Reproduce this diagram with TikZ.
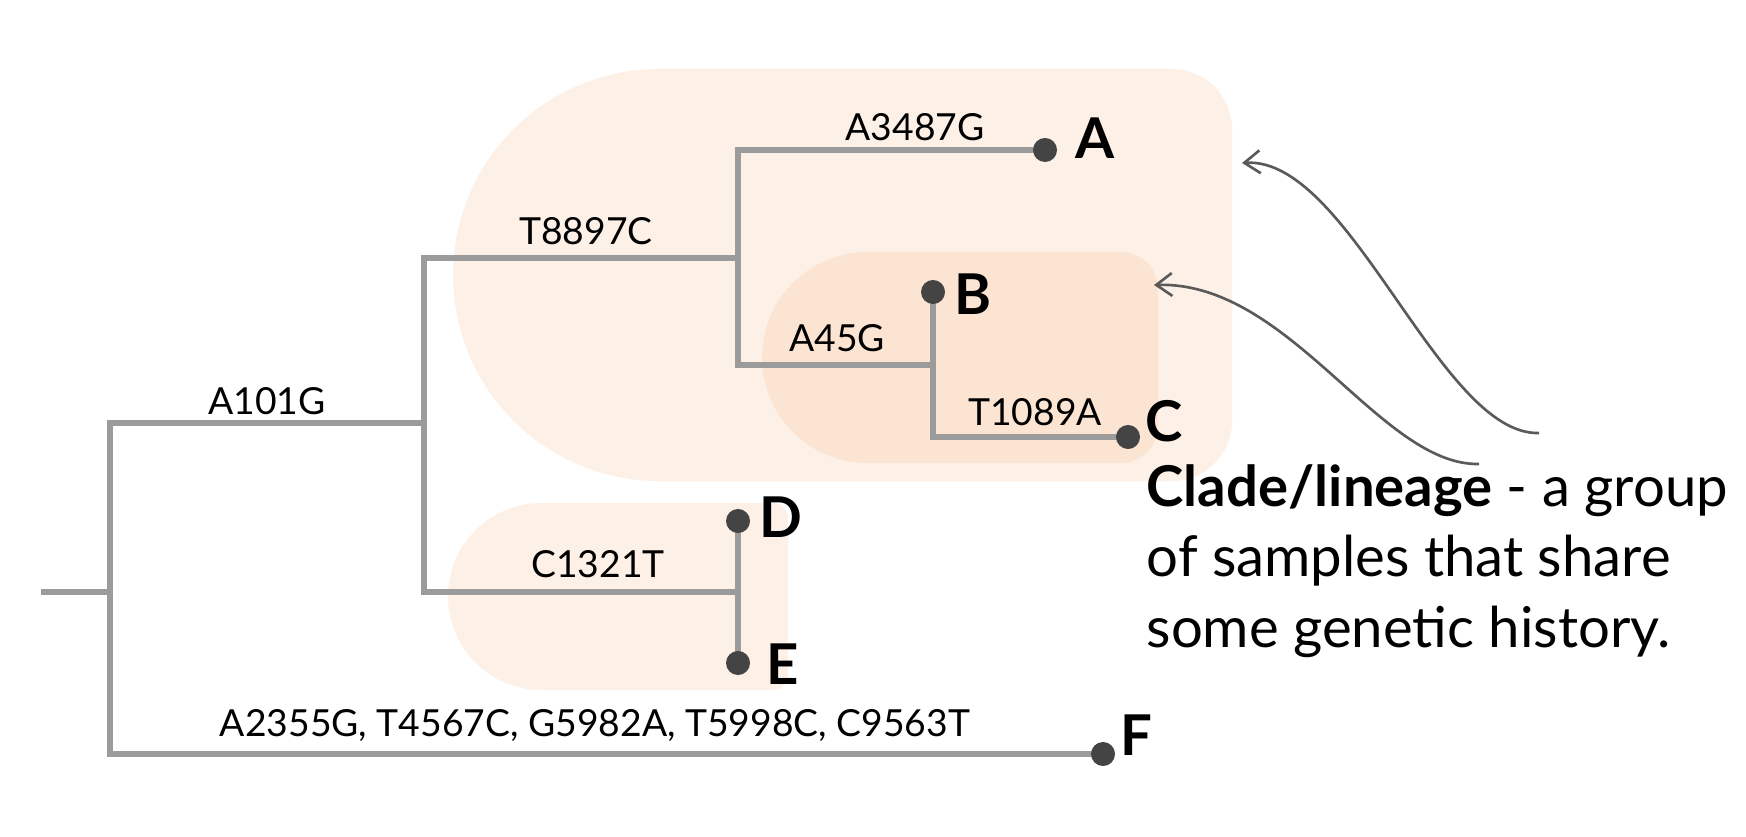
\documentclass[tikz,border=0pt]{standalone}
\usepackage{fontspec}
\setmainfont{Lato}
\usepackage{tikz}
\usetikzlibrary{arrows.meta, calc, backgrounds}
\definecolor{cladelight}{RGB}{253,240,231}
\definecolor{cladedark}{RGB}{252,228,210}
\definecolor{branchgray}{RGB}{155,155,155}
\definecolor{leafdark}{RGB}{68,68,68}
\definecolor{arrowgray}{RGB}{90,90,90}

\begin{document}
\begin{tikzpicture}[
  x=0.01cm, y=0.01cm,
  font=\fontsize{10.6}{12.7}\selectfont,
  branch/.style={draw=branchgray, line width=1.85pt},
  leaf/.style={circle, fill=leafdark, inner sep=0pt, minimum size=0.24cm},
  mut/.style={anchor=base, inner sep=0pt},
  tipname/.style={anchor=base west, inner sep=0pt,
                  font=\fontsize{16}{19}\selectfont\bfseries},
  desc/.style={anchor=base west, inner sep=0pt, align=left,
               font=\fontsize{16}{20}\selectfont},
  pointer/.style={-{Straight Barb[length=4.5pt,width=6.5pt]},
                  draw=arrowgray, line width=0.75pt}
]
  \useasboundingbox (0,0) rectangle (1746,836);
  % inner nodes of the tree
  \coordinate (root) at (41,244);
  \coordinate (n0) at (110,244);
  \coordinate (n1) at (424,413);
  \coordinate (n2) at (738,578);
  \coordinate (n3) at (933,471);
  \coordinate (n4) at (738,244);
  % samples
  \node[leaf] (A) at (1045,686) {};
  \node[leaf] (B) at (933,544) {};
  \node[leaf] (C) at (1128,399) {};
  \node[leaf] (D) at (738,315) {};
  \node[leaf] (E) at (738,173) {};
  \node[leaf] (F) at (1103,82) {};
  \foreach \l/\dx/\dy in {A/30/-9, B/21/-23, C/17/-4, D/21/-16, E/28/-21, F/17/-1}
    \node[tipname] (l\l) at ($(\l)+(\dx,\dy)$) {\l};

  % mutations
  \node[mut] (mA101G) at (267,422) {A101G};
  \node[mut] (mT8897C) at (586,591) {T8897C};
  \node[mut] (mA3487G) at (915,695) {A3487G};
  \node[mut] (mA45G) at (837,484) {A45G};
  \node[mut] (mT1089A) at (1035,410) {T1089A};
  \node[mut] (mC1321T) at (598,259) {C1321T};
  \node[mut] (mF) at (595,100) {A2355G, T4567C, G5982A, T5998C, C9563T};

  \node[desc] (clade) at (1146,189)
    {\textbf{Clade/lineage} - a group\\of samples that share\\some genetic history.};
  \coordinate (outerstart) at (1539,403);
  \coordinate (outerend) at (1242,673);
  \coordinate (innerstart) at (1479,372);
  \coordinate (innerend) at (1154,551);
  \draw[pointer] (outerstart) .. controls (1440,400) and (1350,680) .. (outerend);
  \draw[pointer] (innerstart) .. controls (1380,370) and (1290,555) .. (innerend);

  \begin{scope}[on background layer]
    % clades
    \fill[cladelight] (1172,767) -- (659,767) arc[start angle=90,end angle=270,radius=206]
      -- (1172,355) arc[start angle=-90,end angle=0,radius=60]
      -- (1232,707) arc[start angle=0,end angle=90,radius=60] -- cycle;
    \fill[cladedark] (1121,584) -- (867.5,584) arc[start angle=90,end angle=270,radius=105.5]
      -- (1121,373) arc[start angle=-90,end angle=0,radius=37]
      -- (1158,547) arc[start angle=0,end angle=90,radius=37] -- cycle;
    \fill[cladelight] (773,333) -- (541.5,333) arc[start angle=90,end angle=270,radius=93.5]
      -- (773,146) arc[start angle=-90,end angle=0,radius=15]
      -- (788,318) arc[start angle=0,end angle=90,radius=15] -- cycle;
    % branches
    \draw[branch] (root) -- (n0);
    \foreach \a/\b in {n0/n1, n0/F, n1/n2, n1/n4, n2/A, n2/n3, n3/B, n3/C, n4/D, n4/E}
      \draw[branch] (\a) |- (\b.center);
  \end{scope}
\end{tikzpicture}
\end{document}
